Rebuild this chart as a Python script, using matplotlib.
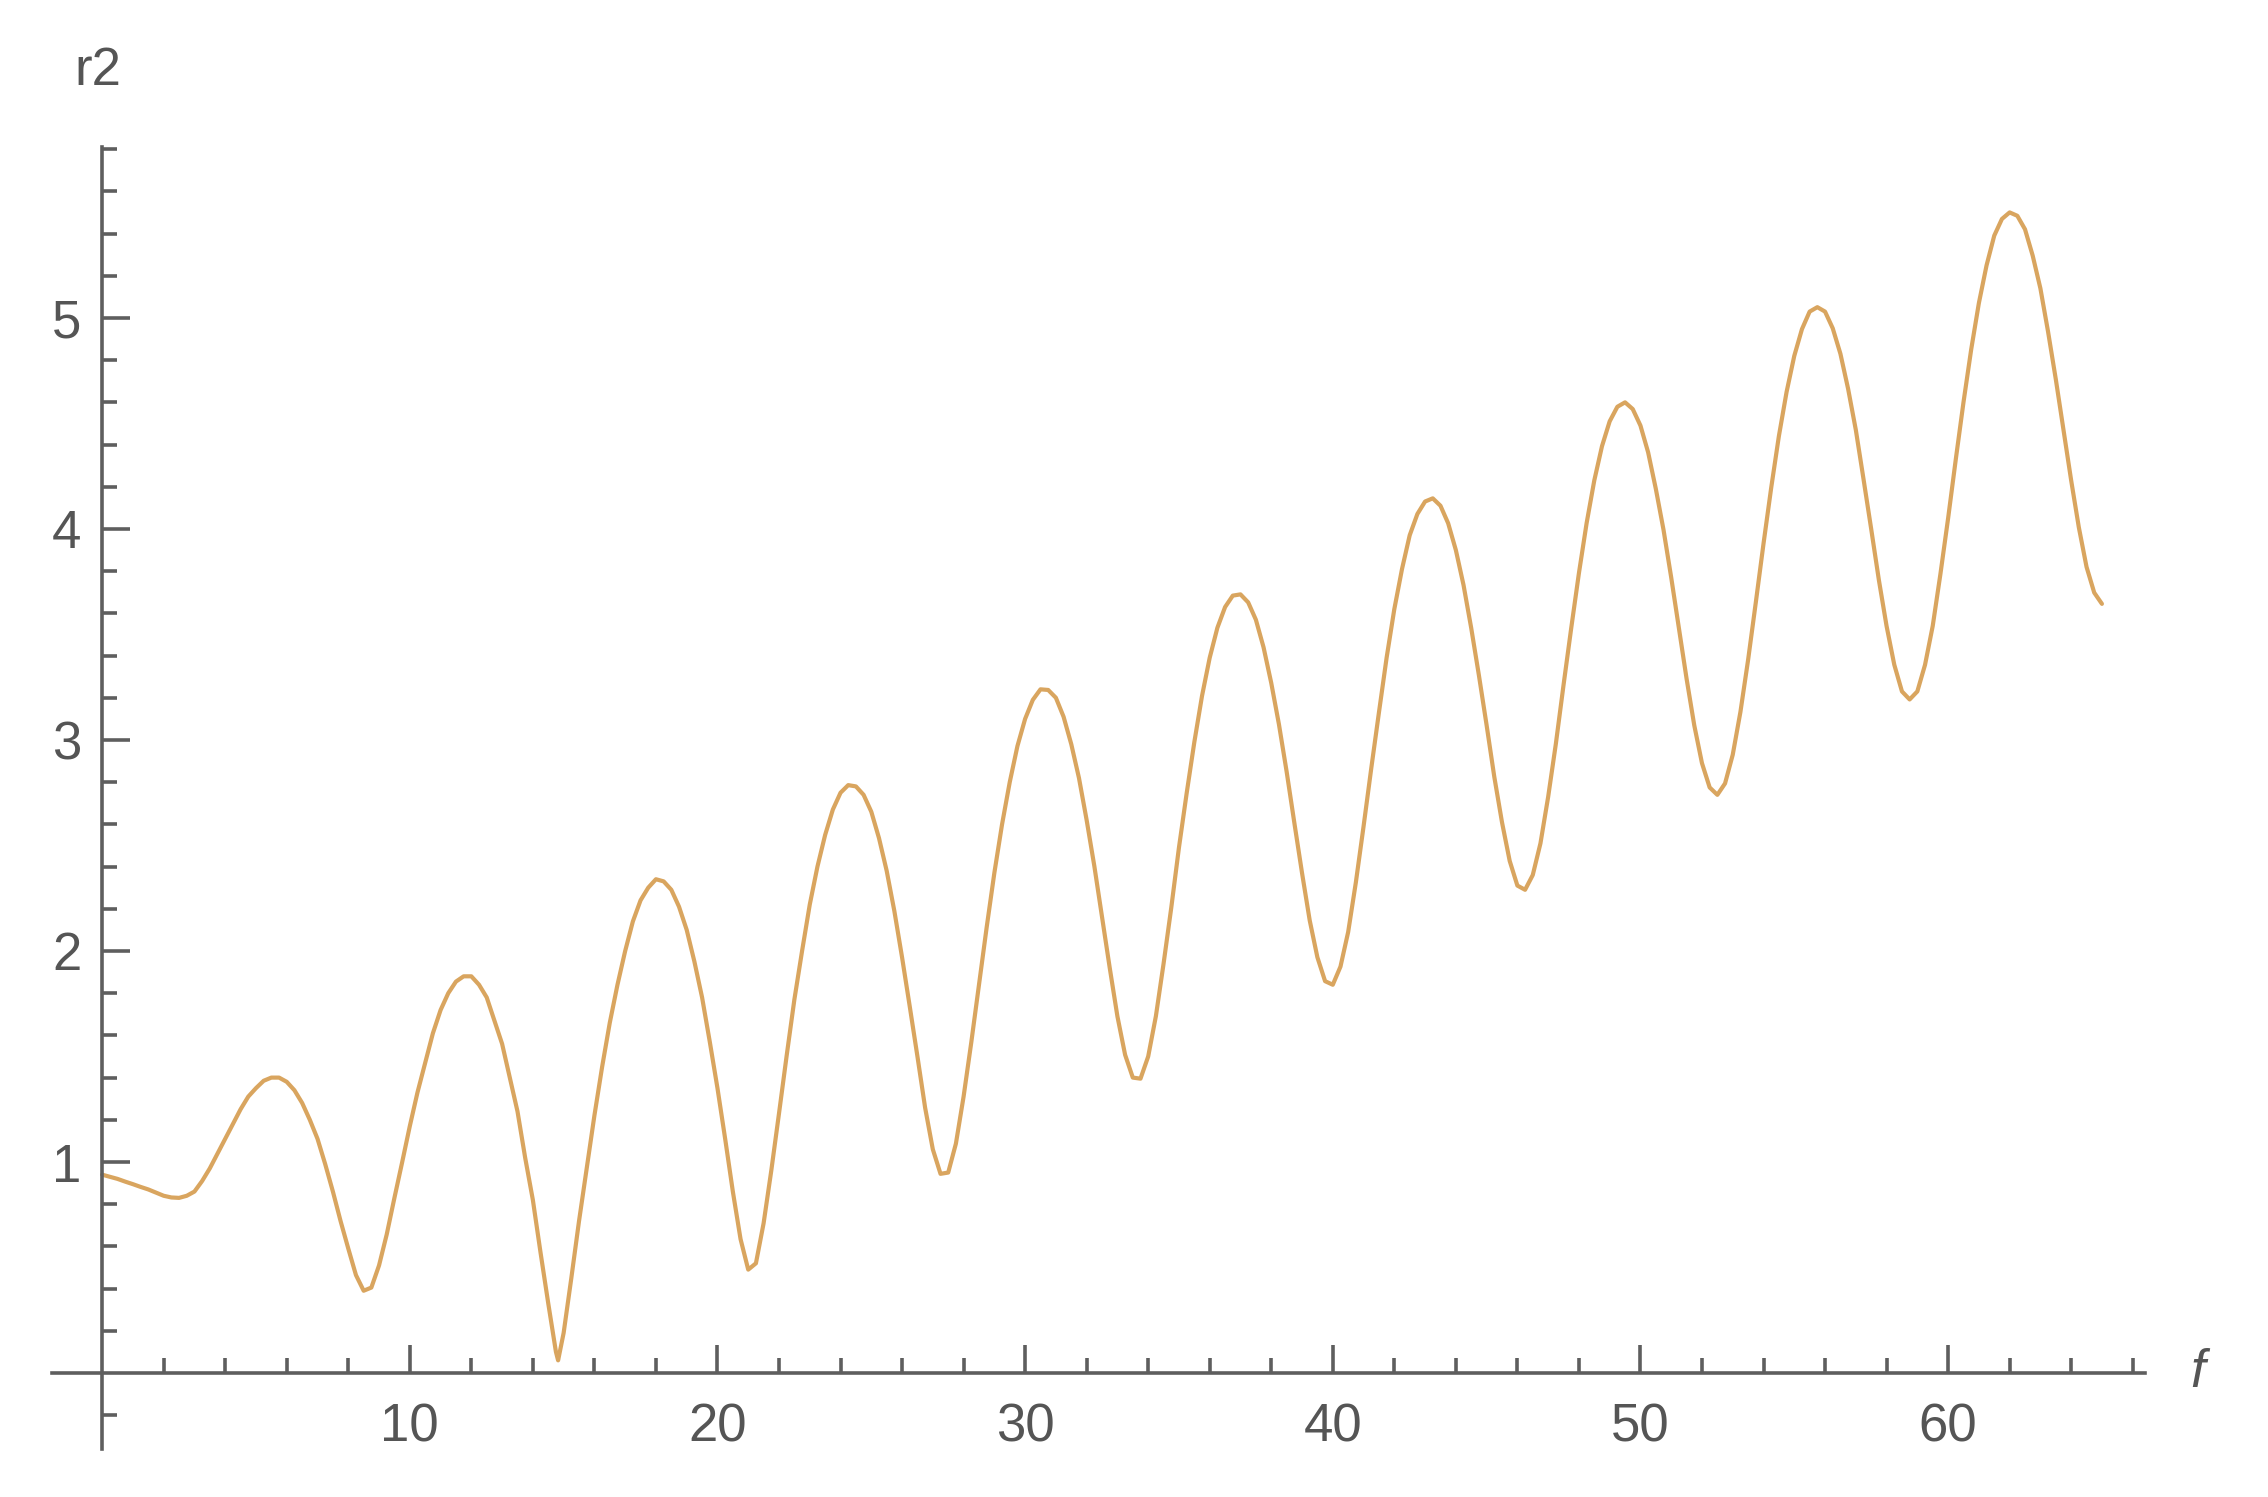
import matplotlib
matplotlib.use("Agg")
import matplotlib.pyplot as plt
from matplotlib.ticker import FixedLocator, NullFormatter

# ---- data (one row per unit of f) ----
f_values = [
    0.0, 0.25, 0.5, 0.75,   1.0, 1.25, 1.5, 1.75,   2.0, 2.25, 2.5, 2.75,
    3.0, 3.25, 3.5, 3.75,   4.0, 4.25, 4.5, 4.75,   5.0, 5.25, 5.5, 5.75,
    6.0, 6.25, 6.5, 6.75,   7.0, 7.25, 7.5, 7.75,   8.0, 8.25, 8.5, 8.75,
    9.0, 9.25, 9.5, 9.75,   10.0, 10.25, 10.5, 10.75, 11.0, 11.25, 11.5, 11.75,
    12.0, 12.25, 12.5, 12.75, 13.0, 13.25, 13.5, 13.75,
    14.0, 14.25, 14.5, 14.75, 14.82,
    15.0, 15.25, 15.5, 15.75, 16.0, 16.25, 16.5, 16.75, 17.0, 17.25, 17.5, 17.75,
    18.0, 18.25, 18.5, 18.75, 19.0, 19.25, 19.5, 19.75, 20.0, 20.25, 20.5, 20.75,
    21.0, 21.25, 21.5, 21.75, 22.0, 22.25, 22.5, 22.75, 23.0, 23.25, 23.5, 23.75,
    24.0, 24.25, 24.5, 24.75, 25.0, 25.25, 25.5, 25.75, 26.0, 26.25, 26.5, 26.75,
    27.0, 27.25, 27.5, 27.75, 28.0, 28.25, 28.5, 28.75, 29.0, 29.25, 29.5, 29.75,
    30.0, 30.25, 30.5, 30.75, 31.0, 31.25, 31.5, 31.75, 32.0, 32.25, 32.5, 32.75,
    33.0, 33.25, 33.5, 33.75, 34.0, 34.25, 34.5, 34.75, 35.0, 35.25, 35.5, 35.75,
    36.0, 36.25, 36.5, 36.75, 37.0, 37.25, 37.5, 37.75, 38.0, 38.25, 38.5, 38.75,
    39.0, 39.25, 39.5, 39.75, 40.0, 40.25, 40.5, 40.75, 41.0, 41.25, 41.5, 41.75,
    42.0, 42.25, 42.5, 42.75, 43.0, 43.25, 43.5, 43.75, 44.0, 44.25, 44.5, 44.75,
    45.0, 45.25, 45.5, 45.75, 46.0, 46.25, 46.5, 46.75, 47.0, 47.25, 47.5, 47.75,
    48.0, 48.25, 48.5, 48.75, 49.0, 49.25, 49.5, 49.75, 50.0, 50.25, 50.5, 50.75,
    51.0, 51.25, 51.5, 51.75, 52.0, 52.25, 52.5, 52.75, 53.0, 53.25, 53.5, 53.75,
    54.0, 54.25, 54.5, 54.75, 55.0, 55.25, 55.5, 55.75, 56.0, 56.25, 56.5, 56.75,
    57.0, 57.25, 57.5, 57.75, 58.0, 58.25, 58.5, 58.75, 59.0, 59.25, 59.5, 59.75,
    60.0, 60.25, 60.5, 60.75, 61.0, 61.25, 61.5, 61.75, 62.0, 62.25, 62.5, 62.75,
    63.0, 63.25, 63.5, 63.75, 64.0, 64.25, 64.5, 64.75, 65.0,
]
r2_values = [
    0.94, 0.93, 0.92, 0.907,   0.895, 0.882, 0.87, 0.855,  0.84, 0.832, 0.83, 0.84,
    0.86, 0.91, 0.97, 1.04,    1.11, 1.18, 1.25, 1.31,     1.35, 1.385, 1.40, 1.40,
    1.38, 1.34, 1.28, 1.20,    1.11, 0.99, 0.86, 0.72,     0.59, 0.464, 0.39, 0.405,
    0.51, 0.657, 0.83, 0.998,  1.17, 1.33, 1.47, 1.61,     1.72, 1.80, 1.855, 1.88,
    1.88, 1.84, 1.78, 1.67,    1.56, 1.40, 1.24, 1.02,
    0.82, 0.57, 0.33, 0.10, 0.06,
    0.19, 0.45, 0.72, 0.97,    1.22, 1.45, 1.66, 1.84,     2.00, 2.14, 2.24, 2.30,
    2.34, 2.33, 2.29, 2.21,    2.10, 1.95, 1.78, 1.57,     1.35, 1.11, 0.86, 0.635,
    0.49, 0.52, 0.71, 0.96,    1.23, 1.505, 1.77, 2.00,    2.22, 2.40, 2.55, 2.67,
    2.75, 2.786, 2.78, 2.740,  2.66, 2.535, 2.38, 2.189,   1.97, 1.737, 1.50, 1.257,
    1.06, 0.944, 0.95, 1.087,  1.31, 1.567, 1.84, 2.112,   2.37, 2.600, 2.80, 2.971,
    3.10, 3.190, 3.24, 3.237,  3.20, 3.110, 2.98, 2.820,   2.62, 2.402, 2.16, 1.920,
    1.69, 1.508, 1.40, 1.395,  1.50, 1.691, 1.94, 2.205,   2.49, 2.747, 2.99, 3.209,
    3.39, 3.532, 3.63, 3.684,  3.69, 3.652, 3.57, 3.439,   3.27, 3.074, 2.85, 2.608,
    2.37, 2.145, 1.97, 1.857,  1.84, 1.926, 2.09, 2.325,   2.59, 2.865, 3.13, 3.390,
    3.62, 3.810, 3.97, 4.071,  4.13, 4.145, 4.11, 4.027,   3.90, 3.734, 3.53, 3.306,
    3.07, 2.825, 2.61, 2.427,  2.31, 2.290, 2.36, 2.510,   2.73, 2.981, 3.26, 3.530,
    3.79, 4.027, 4.23, 4.392,  4.51, 4.579, 4.60, 4.568,   4.49, 4.363, 4.19, 3.996,
    3.77, 3.529, 3.29, 3.069,  2.89, 2.775, 2.74, 2.794,   2.93, 3.133, 3.38, 3.652,
    3.93, 4.195, 4.44, 4.649,  4.82, 4.947, 5.03, 5.051,   5.03, 4.951, 4.83, 4.664,
    4.47, 4.237, 4.00, 3.758,  3.54, 3.357, 3.23, 3.192,   3.23, 3.356, 3.54, 3.786,
    4.05, 4.330, 4.60, 4.850,  5.07, 5.249, 5.39, 5.469,   5.50, 5.484, 5.42, 5.295,
    5.14, 4.934, 4.71, 4.469,  4.23, 4.007, 3.82, 3.698,   3.645,
]
x_major = [10, 20, 30, 40, 50, 60]
x_minor = [2, 4, 6, 8, 12, 14, 16, 18, 22, 24, 26, 28, 32, 34, 36, 38,
           42, 44, 46, 48, 52, 54, 56, 58, 62, 64, 66]
y_major = [1, 2, 3, 4, 5]
y_minor = [-0.2, 0.2, 0.4, 0.6, 0.8, 1.2, 1.4, 1.6, 1.8, 2.2, 2.4, 2.6, 2.8,
           3.2, 3.4, 3.6, 3.8, 4.2, 4.4, 4.6, 4.8, 5.2, 5.4, 5.6, 5.8]
x_label = "f"
y_label = "r2"

# ---- style ----
plt.rcParams['font.family'] = ['Liberation Sans', 'DejaVu Sans']
AX_COLOR = '#5e5e5e'
TXT_COLOR = '#555555'
LINE_COLOR = '#D9A55F'

W, H = 2268, 1497
fig = plt.figure(figsize=(W / 100, H / 100), dpi=100)
ax = fig.add_axes([52 / W, 48 / H, (2145 - 52) / W, (1449 - 147) / H])
ax.set_xlim(-1.63, 66.4)
ax.set_ylim(-0.36, 5.81)

ax.plot(f_values, r2_values, color=LINE_COLOR, lw=3.0,
        solid_joinstyle='round', solid_capstyle='round')

for s in ['top', 'right']:
    ax.spines[s].set_visible(False)
for s in ['left', 'bottom']:
    ax.spines[s].set_position(('data', 0))
    ax.spines[s].set_color(AX_COLOR)
    ax.spines[s].set_linewidth(2.6)

ax.xaxis.set_major_locator(FixedLocator(x_major))
ax.xaxis.set_minor_locator(FixedLocator(x_minor))
ax.yaxis.set_major_locator(FixedLocator(y_major))
ax.yaxis.set_minor_locator(FixedLocator(y_minor))
ax.set_xticklabels([str(v) for v in x_major])
ax.set_yticklabels([str(v) for v in y_major])
ax.xaxis.set_minor_formatter(NullFormatter())
ax.yaxis.set_minor_formatter(NullFormatter())

ax.tick_params(which='major', direction='in', length=20, width=2.6,
               color=AX_COLOR, labelcolor=TXT_COLOR, labelsize=38)
ax.tick_params(which='minor', direction='in', length=11, width=2.6, color=AX_COLOR)
ax.tick_params(axis='x', which='major', pad=21)
ax.tick_params(axis='y', which='major', pad=15)
ax.patch.set_alpha(0)

fig.text(98 / W, 1 - 71 / H, y_label, ha='center', va='center',
         fontsize=38, color=TXT_COLOR)
fig.text(2198 / W, 1 - 1373 / H, x_label, ha='center', va='center',
         fontsize=38, color=TXT_COLOR, style='italic')

fig.savefig('out.png', dpi=100, facecolor='white')
